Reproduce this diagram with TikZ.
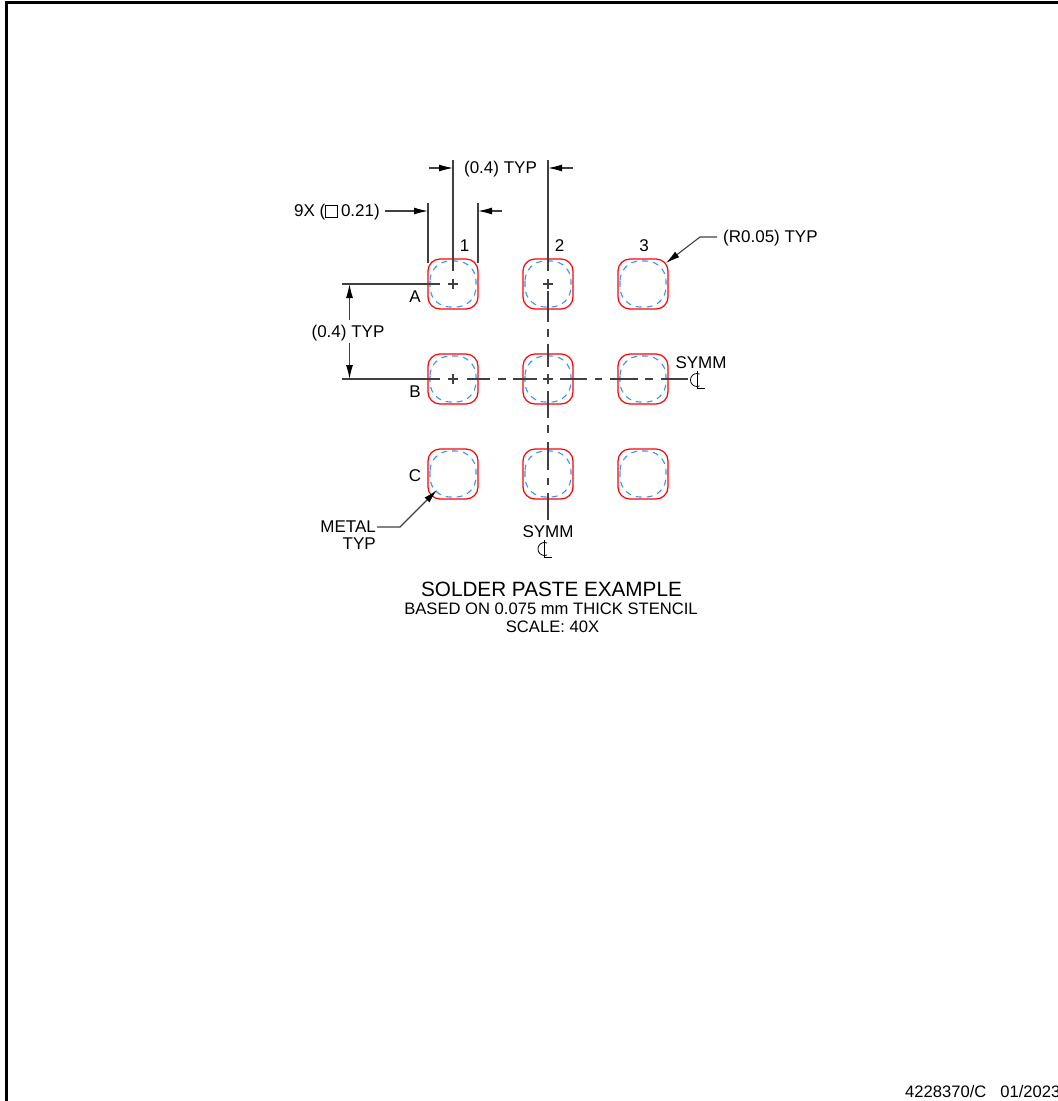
\documentclass[tikz,border=0pt]{standalone}
\usepackage{fontspec}
\setmainfont{Liberation Sans}
\usetikzlibrary{arrows.meta}
\definecolor{pastecolor}{RGB}{50,150,255}
\tikzset{
	dim/.style={line width=1.1pt, draw=black!75},
	tip/.style={dim, -{Latex[length=14pt, width=7pt, color=black]}},
	pad/.style={draw=red, line width=1.2pt, rounded corners=12pt},
	paste/.style={draw=pastecolor, line width=1.1pt, dash pattern=on 6pt off 5pt, rounded corners=20pt},
	tiplabel/.style={inner sep=0pt, font=\fontsize{17}{17}\selectfont},
	smalllabel/.style={inner sep=0pt, font=\fontsize{16.6}{17}\selectfont},
}
\begin{document}
\begin{tikzpicture}[x=1pt, y=-1pt]
	\useasboundingbox (0,0) rectangle (1058,1101);
	\draw [line width=3pt] (6.5,1101) -- (6.5,2.5) -- (1058,2.5);
	\foreach \cx/\cy in {453/284, 548/284, 643/284, 453/379, 548/379, 643/379, 453/474, 548/474, 643/474} {
		\draw [paste] (\cx-23,\cy-23) rectangle (\cx+23,\cy+23);
		\draw [pad] (\cx-25,\cy-25) rectangle (\cx+25,\cy+25);
	}
	\foreach \cx/\cy in {453/284, 548/284, 453/379, 548/379} {
		\draw [dim] (\cx-5,\cy) -- (\cx+5,\cy);
		\draw [dim] (\cx,\cy-5) -- (\cx,\cy+5);
	}
	\draw [dim] (453,160) -- (453,271);
	\draw [dim] (548,160) -- (548,271);
	\draw [tip] (429,168) -- (453,168);
	\draw [tip] (573,168) -- (548,168);
	\node [tiplabel] (pitchtop) at (500.5,169) {(0.4) TYP};
	\draw [dim] (428,203) -- (428,263);
	\draw [dim] (478,203) -- (478,263);
	\draw [tip] (385,211) -- (428,211);
	\draw [tip] (502,211) -- (478,211);
	\node [tiplabel] (padsize) at (337,212) {9X (\tikz[baseline=1pt]\draw[line width=.8pt] (0,0) rectangle (12,-12);\,0.21)};
	\node [tiplabel] (col1) at (464.5,246) {1};
	\node [tiplabel] (col2) at (559.5,246) {2};
	\node [tiplabel] (col3) at (644,246) {3};
	\node [tiplabel] (rowa) at (415,297) {A};
	\node [tiplabel] (rowb) at (415,392) {B};
	\node [tiplabel] (rowc) at (415,476) {C};
	\draw [dim] (342,284) -- (440,284);
	\draw [dim] (342,379) -- (440,379);
	\draw [tip] (349.5,320) -- (349.5,284);
	\draw [tip] (349.5,343) -- (349.5,379);
	\node [tiplabel] (pitchleft) at (348,333) {(0.4) TYP};
	\foreach \xa/\xb in {467/490, 498/506, 513/537, 560/587, 595/602, 610/638, 645/653, 661/688}
		\draw [dim] (\xa,379) -- (\xb,379);
	\foreach \ya/\yb in {291/322, 329/337, 344/367, 391/418, 425/433, 442/470, 478/485, 493/520}
		\draw [dim] (548,\ya) -- (548,\yb);
	\node [tiplabel] (symmright) at (701,363) {SYMM};
	\node [tiplabel] (symmbottom) at (548,532) {SYMM};
	\foreach \cx/\cy in {697/380, 544.5/549} {
		\draw [line width=.8pt] (\cx+2.5,\cy-6) arc (-67:-293:6.5);
		\draw [line width=.8pt] (\cx,\cy-9) -- (\cx,\cy+8.5) -- (\cx+7.5,\cy+8.5);
	}
	\draw [tip] (717,237) -- (700,237) -- (666,263);
	\node [tiplabel, anchor=west] (radius) at (723,238) {(R0.05) TYP};
	\draw [tip] (377,527) -- (400,527) -- (437,490);
	\node [tiplabel, align=right, anchor=north east] (metal) at (376,521) {METAL\\TYP};
	\node [inner sep=0pt, font=\fontsize{20.7}{24}\selectfont] (title) at (551.5,589) {SOLDER PASTE EXAMPLE};
	\node [smalllabel] (stencil) at (551,609) {BASED ON 0.075 mm THICK STENCIL};
	\node [smalllabel] (scale) at (552.5,627) {SCALE: 40X};
	\node [smalllabel, anchor=west] (drawno) at (905,1092) {4228370/C\hspace{14pt}01/2023};
\end{tikzpicture}
\end{document}
